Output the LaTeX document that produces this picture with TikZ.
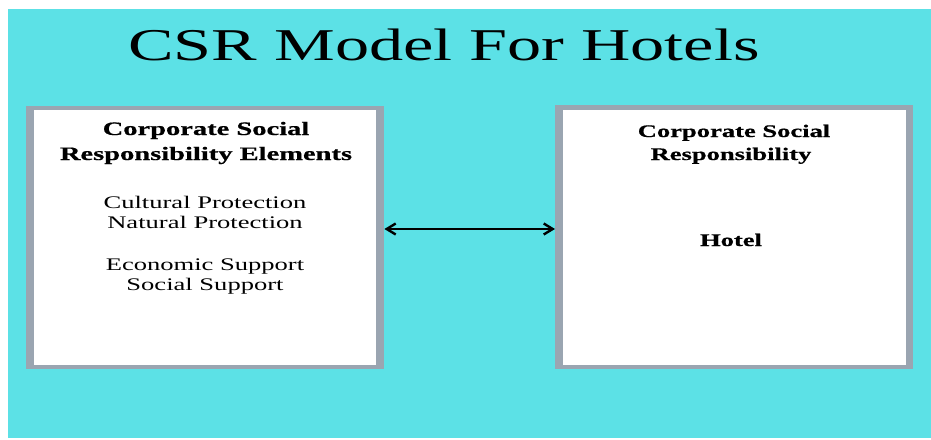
\documentclass[tikz,border=0pt]{standalone}
\usepackage{fontspec}
\usetikzlibrary{arrows.meta}
\newfontfamily\wideserif[FakeStretch=1.5,BoldFeatures={FakeBold=0.6}]{Liberation Serif}
\definecolor{bgcyan}{RGB}{92,225,230}
\definecolor{boxgray}{RGB}{154,165,177}
\tikzset{
  outerbox/.style={fill=boxgray, draw=none, inner sep=0pt, anchor=north west},
  innerbox/.style={fill=white, draw=none, inner sep=0pt, anchor=north west},
  titletext/.style={anchor=base, inner sep=0pt, font=\wideserif\fontsize{45.5}{50}\selectfont},
  headtext/.style={anchor=base, inner sep=0pt, font=\wideserif\bfseries\fontsize{19}{24}\selectfont},
  bodytext/.style={anchor=base, inner sep=0pt, font=\wideserif\fontsize{17.7}{20}\selectfont},
  rheadtext/.style={anchor=base, inner sep=0pt, font=\wideserif\bfseries\fontsize{17.7}{22}\selectfont},
  link/.style={line width=2.4pt, {Straight Barb[length=9pt,width=11pt]}-{Straight Barb[length=9pt,width=11pt]}}
}
\begin{document}
\begin{tikzpicture}[x=1pt,y=-1pt]
\useasboundingbox (0,0) rectangle (931,439);
\fill[bgcyan] (8,9) rectangle (931,438);
% title
\node[titletext] (title) at (444,60) {CSR Model For Hotels};
% left box
\node[outerbox, minimum width=358pt, minimum height=263pt] (Lout) at (26,106) {};
\node[innerbox, minimum width=342pt, minimum height=255pt] (Lin) at (34,110) {};
\node[headtext] (Lh1) at (206,135) {Corporate Social};
\node[headtext] (Lh2) at (206,160) {Responsibility Elements};
\node[bodytext] (Lb1) at (205,208) {Cultural Protection};
\node[bodytext] (Lb2) at (205,228) {Natural Protection};
\node[bodytext] (Lb3) at (205,270) {Economic Support};
\node[bodytext] (Lb4) at (205,290) {Social Support};
% right box
\node[outerbox, minimum width=358pt, minimum height=264pt] (Rout) at (555,105) {};
\node[innerbox, minimum width=343pt, minimum height=255pt] (Rin) at (563,110) {};
\node[rheadtext] (Rh1) at (734,137) {Corporate Social};
\node[rheadtext] (Rh2) at (731,160) {Responsibility};
\node[rheadtext] (Rh3) at (731,246) {Hotel};
% connector
\coordinate (ay) at (0,229);
\draw[link] (Lout.east |- ay) -- (Rout.west |- ay);
\end{tikzpicture}
\end{document}
